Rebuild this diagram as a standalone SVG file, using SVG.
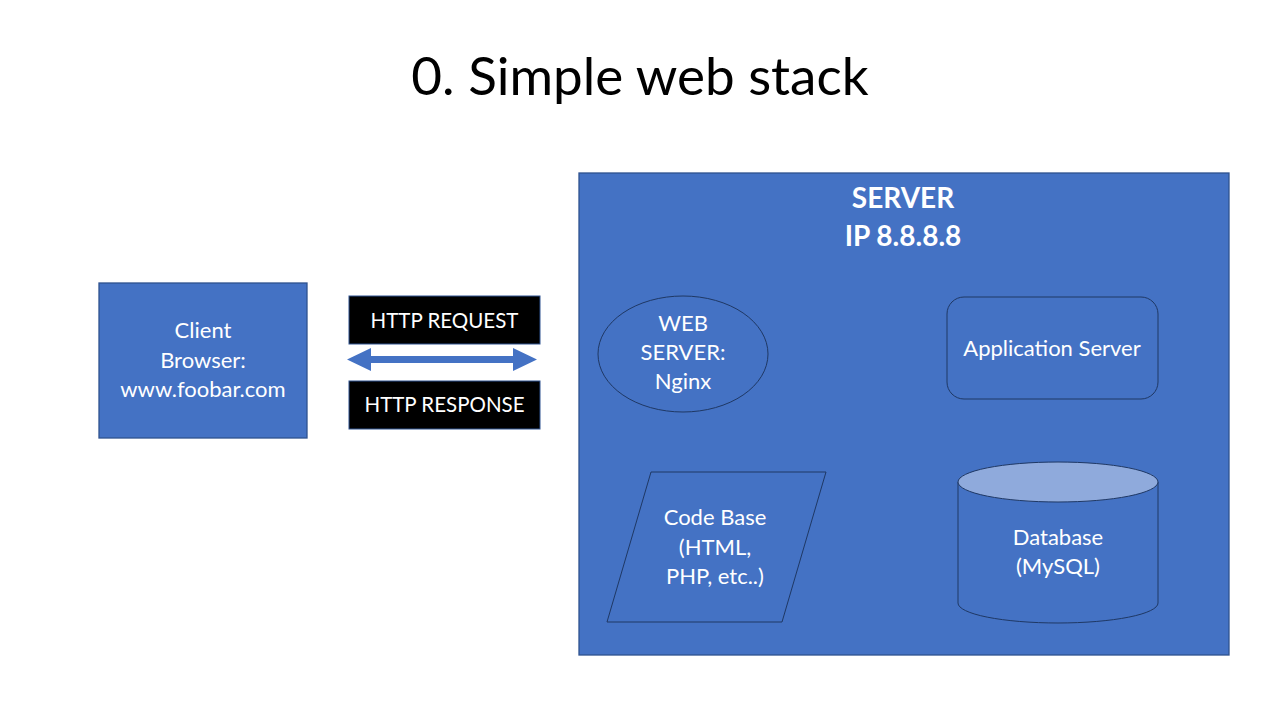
<svg xmlns="http://www.w3.org/2000/svg" width="1280" height="720" viewBox="0 0 1280 720">
<style>
.shape{fill:#4472C4;stroke:#2F528F;stroke-width:1.3}
.inner{fill:#4472C4;stroke:#1F3864;stroke-width:1}
.lbl{font-family:Lato,"Open Sans","Liberation Sans",sans-serif;font-size:22px;fill:#ffffff;text-anchor:middle}
.sm{font-size:20.5px}
.blk{fill:#000000;stroke:#2F528F;stroke-width:1}
.hd{font-family:Lato,"Open Sans","Liberation Sans",sans-serif;font-size:28px;font-weight:bold;fill:#ffffff;text-anchor:middle}
</style>
<rect width="1280" height="720" fill="#ffffff"/>
<text x="640" y="95" font-family="Lato,'Open Sans','Liberation Sans',sans-serif" font-size="53" fill="#000000" text-anchor="middle">0. Simple web stack</text>
<g id="client">
<rect class="shape" x="99" y="283" width="208" height="155"/>
<text class="lbl" x="203" y="338">Client</text>
<text class="lbl" x="203" y="368">Browser:</text>
<text class="lbl" x="203" y="397">www.foobar.com</text>
</g>
<g id="http-request">
<rect class="blk" x="349" y="296" width="191" height="48"/>
<text class="lbl sm" x="444.5" y="328">HTTP REQUEST</text>
</g>
<g id="http-response">
<rect class="blk" x="349" y="381" width="191" height="48"/>
<text class="lbl sm" x="444.5" y="412">HTTP RESPONSE</text>
</g>
<g id="connectors">
<polygon fill="#4472C4" points="347,359.5 371,348 371,356 513,356 513,348 537,359.5 513,371 513,363 371,363 371,371"/>
</g>
<g id="server">
<rect class="shape" x="579" y="173" width="650" height="482"/>
<text class="hd" x="903" y="208">SERVER</text>
<text class="hd" x="903" y="246">IP 8.8.8.8</text>
</g>
<g id="web-server">
<ellipse class="inner" cx="683" cy="354" rx="85" ry="58"/>
<text class="lbl" x="683" y="331">WEB</text>
<text class="lbl" x="683" y="360">SERVER:</text>
<text class="lbl" x="683" y="389">Nginx</text>
</g>
<g id="app-server">
<rect class="inner" x="947" y="297" width="211" height="102" rx="17"/>
<text class="lbl" x="1052" y="356">Application Server</text>
</g>
<g id="code-base">
<polygon class="inner" points="651,472 826,472 782,622 607,622"/>
<text class="lbl" x="715" y="525">Code Base</text>
<text class="lbl" x="715" y="555">(HTML,</text>
<text class="lbl" x="715" y="584">PHP, etc..)</text>
</g>
<g id="database">
<path class="inner" d="M958,482 L958,603 A100,20 0 0 0 1158,603 L1158,482"/>
<ellipse cx="1058" cy="482" rx="100" ry="20" fill="#8FAADC" stroke="#1F3864" stroke-width="1"/>
<text class="lbl" x="1058" y="545">Database</text>
<text class="lbl" x="1058" y="574">(MySQL)</text>
</g>
</svg>
